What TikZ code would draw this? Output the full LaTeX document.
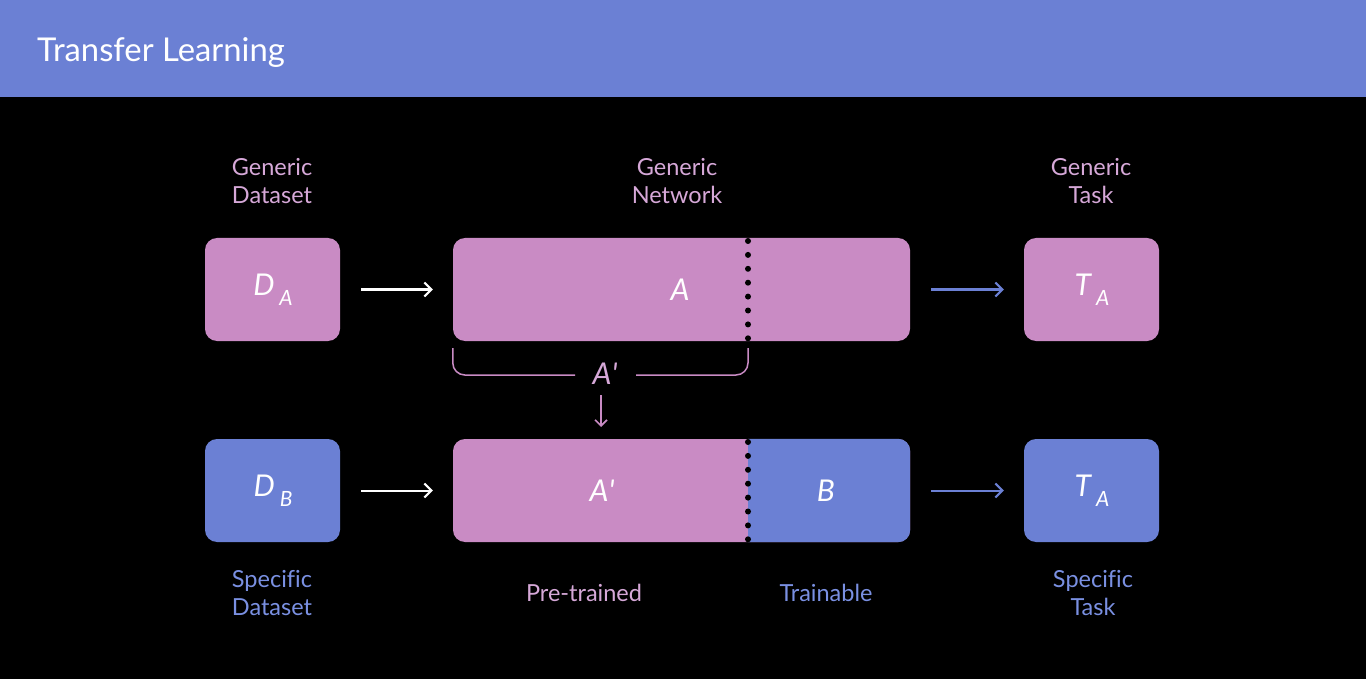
\documentclass[tikz,border=0pt]{standalone}
\usepackage{fontspec}
\setmainfont{Lato}[Ligatures=NoCommon]
\usetikzlibrary{arrows.meta,calc}
\definecolor{hdr}{RGB}{107,128,212}
\definecolor{pinkbox}{RGB}{201,139,196}
\definecolor{bluebox}{RGB}{107,128,212}
\definecolor{pinktxt}{RGB}{214,168,216}
\definecolor{bluetxt}{RGB}{122,144,226}
\tikzset{
  box/.style={rounded corners=12pt, minimum height=103pt, inner sep=0pt, draw=none},
  smallbox/.style={box, minimum width=135pt},
  bigbox/.style={box, minimum width=457pt},
  mathtxt/.style={text=white, font=\fontsize{30}{34}\selectfont\itshape},
  lbl/.style={align=center, font=\fontsize{23.5}{28}\selectfont, inner sep=0pt},
  flow/.style={line width=2pt, -{Straight Barb[length=7pt,width=14pt]}, shorten <=21pt, shorten >=20pt},
  dotline/.style={line width=6pt, line cap=round, dash pattern=on 0pt off 13.9pt, black},
}
\newcommand{\sub}[1]{\,\raisebox{-0.33em}{\fontsize{21}{24}\selectfont #1}}
\begin{document}
\begin{tikzpicture}[x=1pt,y=-1pt]
\fill[black] (0,0) rectangle (1366,679);
\useasboundingbox (0,0) rectangle (1366,679);
\fill[hdr] (0,0) rectangle (1366,97);
\node[anchor=base west, inner sep=0pt, text=white, font=\fontsize{32.8}{38}\selectfont] (title) at (37,62) {Transfer Learning};

% top row
\node[smallbox, fill=pinkbox] (da) at (272.5,289.5) {};
\node[bigbox, fill=pinkbox] (neta) at (681.5,289.5) {};
\node[smallbox, fill=pinkbox] (ta) at (1091.5,289.5) {};
\node[mathtxt] (datxt) at (273,290) {D\sub{A}};
\node[mathtxt] (atxt) at (680,290) {A};
\node[mathtxt] (tatxt) at (1092,290) {T\sub{A}};
\draw[dotline] (748,241) -- (748,339);

% bottom row
\node[smallbox, fill=bluebox] (db) at (272.5,490.5) {};
\node[bigbox, fill=pinkbox] (netb) at (681.5,490.5) {};
\begin{scope}
  \clip (748,400) rectangle (1000,560);
  \fill[bluebox, rounded corners=12pt] (netb.north west) rectangle (netb.south east);
\end{scope}
\node[smallbox, fill=bluebox] (tb) at (1091.5,490.5) {};
\node[mathtxt] (dbtxt) at (273,491) {D\sub{B}};
\node[mathtxt] (aptxt) at (602,491) {A\textquotesingle};
\node[mathtxt] (btxt) at (826,491) {B};
\node[mathtxt] (tbtxt) at (1092,491) {T\sub{A}};
\draw[dotline] (748,442) -- (748,540);

% arrows
\draw[flow, white] (da) -- (neta);
\draw[flow, bluebox] (neta) -- (ta);
\draw[flow, white] (db) -- (netb);
\draw[flow, bluebox] (netb) -- (tb);

% bracket
\node[mathtxt, text=pinktxt] (brk) at (605,374) {A\textquotesingle};
\draw[pinkbox, line width=1.5pt, rounded corners=12pt] ($(neta.south west)+(0,7)$) |- (575,375);
\draw[pinkbox, line width=1.5pt, rounded corners=12pt] (636,375) -| (748,348);
\coordinate (arrtop) at (601,395);
\coordinate (arrbot) at (601,427);
\draw[pinkbox, line width=1.6pt, -{Straight Barb[length=6pt,width=12pt]}] (arrtop) -- (arrbot);

% labels
\node[lbl, text=pinktxt] (l1) at (272,181) {Generic\\Dataset};
\node[lbl, text=pinktxt] (l2) at (677,181) {Generic\\Network};
\node[lbl, text=pinktxt] (l3) at (1091,181) {Generic\\Task};
\node[lbl, text=bluetxt] (l4) at (272,593) {Specific\\Dataset};
\node[lbl, text=pinktxt] (l5) at (584,593) {Pre-trained};
\node[lbl, text=bluetxt] (l6) at (826,593) {Trainable};
\node[lbl, text=bluetxt] (l7) at (1093,593) {Specific\\Task};
\end{tikzpicture}
\end{document}
